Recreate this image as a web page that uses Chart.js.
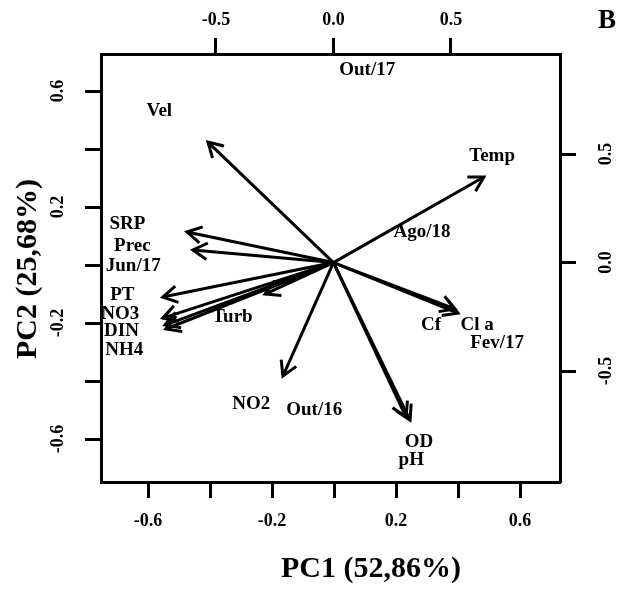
<!DOCTYPE html>
<html>
<head>
<meta charset="utf-8">
<script src="https://cdn.jsdelivr.net/npm/chart.js@4.4.1/dist/chart.umd.min.js"></script>
<style>
  html, body { margin: 0; padding: 0; background: #fff; }
</style>
</head>
<body>
<canvas id="chartCanvas" width="618" height="589"></canvas>
<script>
// variable loadings (arrows, top/right axes)
var varNames = ['Vel', 'Temp', 'SRP', 'Prec', 'PT', 'NO3', 'DIN', 'NH4', 'Turb', 'NO2', 'OD', 'pH', 'Cf', 'Cl a'];
var loadPC1 = [-0.534, 0.640, -0.623, -0.598, -0.726, -0.726, -0.717, -0.713, -0.291, -0.215, 0.326, 0.309, 0.517, 0.530];
var loadPC2 = [0.555, 0.394, 0.141, 0.058, -0.159, -0.256, -0.288, -0.306, -0.145, -0.523, -0.726, -0.712, -0.214, -0.233];

// where the variable names sit (bottom/left axes)
var varLabelX = [-0.564, 0.510, -0.667, -0.651, -0.683, -0.690, -0.686, -0.677, -0.328, -0.267, 0.274, 0.249, 0.313, 0.462];
var varLabelY = [0.531, 0.376, 0.141, 0.066, -0.103, -0.169, -0.228, -0.293, -0.179, -0.479, -0.610, -0.672, -0.207, -0.207];

// sample scores (bottom/left axes)
var sampleNames = ['Out/17', 'Jun/17', 'Ago/18', 'Fev/17', 'Out/16'];
var scorePC1 = [0.107, -0.648, 0.284, 0.526, -0.064];
var scorePC2 = [0.672, -0.003, 0.114, -0.269, -0.500];

// axis ticks
var pcTicks = [-0.6, -0.4, -0.2, 0, 0.2, 0.4, 0.6];
var pcTickLabels = ['-0.6', '', '-0.2', '', '0.2', '', '0.6'];
var loadTicks = [-0.5, 0, 0.5];
var loadTickLabels = ['-0.5', '0.0', '0.5'];

var xTitle = 'PC1 (52,86%)';
var yTitle = 'PC2 (25,68%)';
var panelTag = 'B';

var FONT = "'Liberation Serif', 'DejaVu Serif', serif";

function makeAxis(pos, min, max, ticks, extent) {
  var vertical = (pos === 'left' || pos === 'right');
  return {
    type: 'linear',
    position: pos,
    min: min,
    max: max,
    afterBuildTicks: function(scale) {
      scale.ticks = ticks.map(function(v) { return { value: v }; });
    },
    afterFit: function(scale) {
      if (vertical) scale.width = extent;
      else scale.height = extent;
    },
    ticks: { display: false },
    grid: {
      drawOnChartArea: false,
      drawTicks: true,
      tickLength: 16,
      tickWidth: 3,
      tickColor: '#000',
      color: '#000'
    },
    border: { display: true, color: '#000', width: 3 }
  };
}

var arrowSets = varNames.map(function(name, i) {
  return {
    label: name,
    data: [{ x: 0, y: 0 }, { x: loadPC1[i], y: loadPC2[i] }],
    xAxisID: 'x2',
    yAxisID: 'y2',
    showLine: true,
    borderColor: '#000',
    borderWidth: 3,
    pointRadius: 0,
    fill: false
  };
});

var textPlugin = {
  id: 'biplotText',
  afterDatasetsDraw: function(chart) {
    var ctx = chart.ctx;
    var sx = chart.scales.x, sy = chart.scales.y;
    var sx2 = chart.scales.x2, sy2 = chart.scales.y2;

    // arrow heads
    ctx.save();
    ctx.strokeStyle = '#000';
    ctx.lineWidth = 3;
    ctx.lineCap = 'square';
    for (var i = 0; i < varNames.length; i++) {
      var x0 = sx2.getPixelForValue(0), y0 = sy2.getPixelForValue(0);
      var x1 = sx2.getPixelForValue(loadPC1[i]), y1 = sy2.getPixelForValue(loadPC2[i]);
      var ang = Math.atan2(y1 - y0, x1 - x0);
      var len = 15, spread = Math.PI / 6;
      ctx.beginPath();
      ctx.moveTo(x1 - len * Math.cos(ang - spread), y1 - len * Math.sin(ang - spread));
      ctx.lineTo(x1, y1);
      ctx.lineTo(x1 - len * Math.cos(ang + spread), y1 - len * Math.sin(ang + spread));
      ctx.stroke();
    }
    ctx.restore();

    ctx.save();
    ctx.fillStyle = '#000';
    ctx.textAlign = 'center';
    ctx.textBaseline = 'middle';
    ctx.font = 'bold 19px ' + FONT;
    varNames.forEach(function(name, i) {
      ctx.fillText(name, sx.getPixelForValue(varLabelX[i]), sy.getPixelForValue(varLabelY[i]));
    });
    sampleNames.forEach(function(name, i) {
      ctx.fillText(name, sx.getPixelForValue(scorePC1[i]), sy.getPixelForValue(scorePC2[i]));
    });

    // tick labels
    ctx.font = 'bold 18px ' + FONT;
    pcTicks.forEach(function(v, i) {
      if (!pcTickLabels[i]) return;
      ctx.fillText(pcTickLabels[i], sx.getPixelForValue(v), 521);
      ctx.save();
      ctx.translate(58, sy.getPixelForValue(v));
      ctx.rotate(-Math.PI / 2);
      ctx.fillText(pcTickLabels[i], 0, 0);
      ctx.restore();
    });
    loadTicks.forEach(function(v, i) {
      ctx.fillText(loadTickLabels[i], sx2.getPixelForValue(v), 20);
      ctx.save();
      ctx.translate(606, sy2.getPixelForValue(v));
      ctx.rotate(-Math.PI / 2);
      ctx.fillText(loadTickLabels[i], 0, 0);
      ctx.restore();
    });

    // titles
    ctx.font = 'bold 30px ' + FONT;
    ctx.fillText(xTitle, 371, 569);
    ctx.save();
    ctx.translate(28, 269);
    ctx.rotate(-Math.PI / 2);
    ctx.fillText(yTitle, 0, 0);
    ctx.restore();

    ctx.font = 'bold 27px ' + FONT;
    ctx.fillText(panelTag, 607, 21);
    ctx.restore();
  }
};

var chartInstance = new Chart(document.getElementById('chartCanvas').getContext('2d'), {
  type: 'scatter',
  data: { datasets: arrowSets },
  options: {
    responsive: false,
    animation: false,
    layout: { padding: 0 },
    plugins: {
      legend: { display: false },
      tooltip: { enabled: false }
    },
    scales: {
      x: makeAxis('bottom', -0.752, 0.729, pcTicks, 107),
      y: makeAxis('left', -0.748, 0.728, pcTicks, 101),
      x2: makeAxis('top', -0.989, 0.964, loadTicks, 54),
      y2: makeAxis('right', -1.011, 0.961, loadTicks, 58)
    }
  },
  plugins: [textPlugin]
});
</script>
</body>
</html>
